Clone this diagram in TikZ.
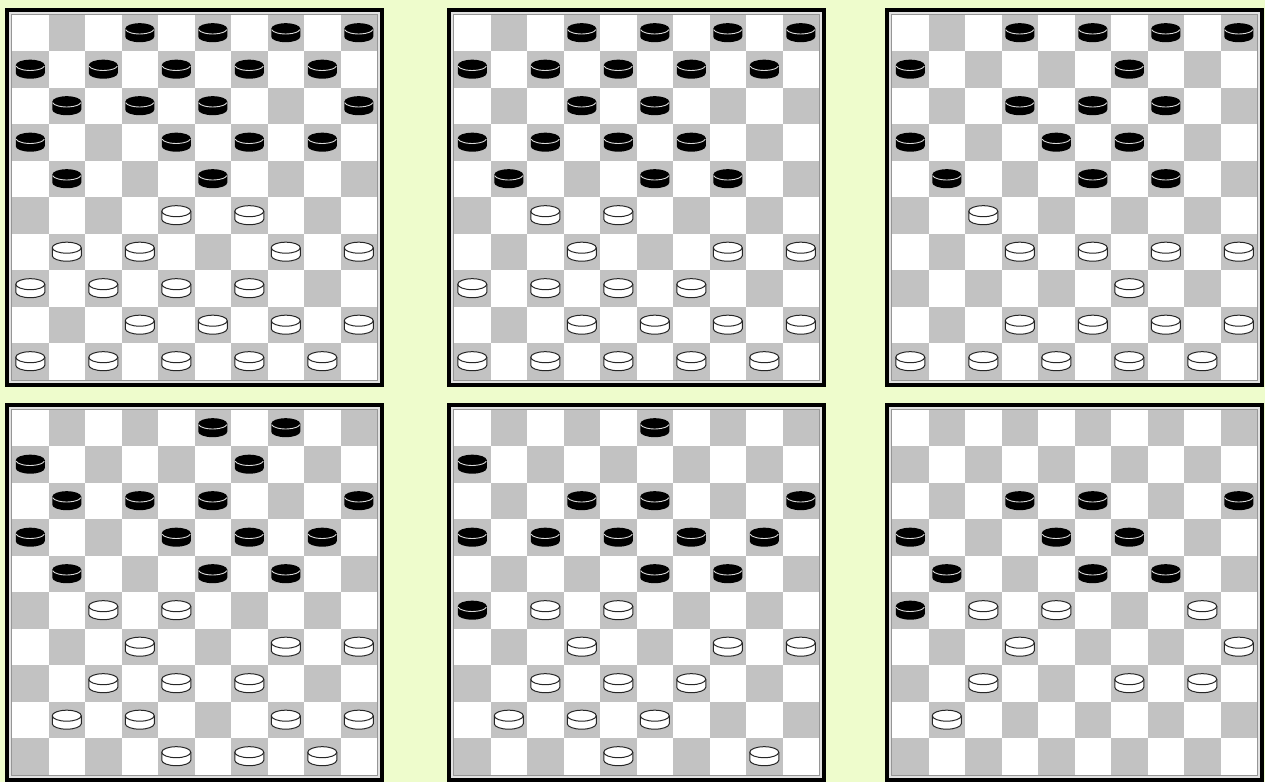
\documentclass[tikz,border=0pt]{standalone}
\usepackage{tikz}
\definecolor{bgc}{RGB}{238,252,204}
\definecolor{darksq}{RGB}{194,194,194}
\definecolor{framefill}{RGB}{226,226,226}
\definecolor{frameline}{RGB}{150,150,150}
\tikzset{
  bpiece/.pic={
    \fill[black] (-14.5,4) -- (-14.5,-4) arc[start angle=180,end angle=360,x radius=14.5,y radius=5.5] -- (14.5,4) arc[start angle=0,end angle=180,x radius=14.5,y radius=5.5] -- cycle;
    \draw[white!85!black,line width=0.45pt] (-14.1,3) arc[start angle=190,end angle=350,x radius=14.3,y radius=5.2];
  },
  wpiece/.pic={
    \filldraw[fill=white,draw=black!85,line width=0.5pt] (-14.5,4) -- (-14.5,-4) arc[start angle=180,end angle=360,x radius=14.5,y radius=5.5] -- (14.5,4) arc[start angle=0,end angle=180,x radius=14.5,y radius=5.5] -- cycle;
    \draw[black!85,line width=0.5pt] (-14.5,4) arc[start angle=180,end angle=360,x radius=14.5,y radius=5.5];
  }
}
\newcommand{\drawboard}[4]{%
  \begin{scope}[shift={(#1,782-#2-379)}]
    \fill[black] (0,0) rectangle (379,379);
    \fill[framefill] (4,4) rectangle (375,375);
    \draw[frameline,line width=0.5pt] (6.2,6.2) rectangle (372.8,372.8);
    \fill[white] (7,7) rectangle (372,372);
    \foreach \r in {0,...,9}{%
      \foreach \c in {0,...,9}{%
        \pgfmathtruncatemacro{\sqpar}{mod(\r+\c,2)}%
        \ifnum\sqpar=1
          \fill[darksq] ({7+36.5*\c},{372-36.5*(\r+1)}) rectangle ++(36.5,36.5);
        \fi
      }%
    }
    \foreach \r/\c in {#3} \pic at ({25.25+36.5*\c},{354.3-36.5*\r}) {bpiece};
    \foreach \r/\c in {#4} \pic at ({25.25+36.5*\c},{354.3-36.5*\r}) {wpiece};
  \end{scope}}
\begin{document}
\begin{tikzpicture}[x=0.5pt,y=0.5pt]
\useasboundingbox (0,0) rectangle (1265,782);
\fill[bgc] (0,0) rectangle (1265,782);
% board 1
\drawboard{5}{8}{0/3,0/5,0/7,0/9,1/0,1/2,1/4,1/6,1/8,2/1,2/3,2/5,2/9,3/0,3/4,3/6,3/8,4/1,4/5}{5/4,5/6,6/1,6/3,6/7,6/9,7/0,7/2,7/4,7/6,8/3,8/5,8/7,8/9,9/0,9/2,9/4,9/6,9/8}
% board 2
\drawboard{447}{8}{0/3,0/5,0/7,0/9,1/0,1/2,1/4,1/6,1/8,2/3,2/5,3/0,3/2,3/4,3/6,4/1,4/5,4/7}{5/2,5/4,6/3,6/7,6/9,7/0,7/2,7/4,7/6,8/3,8/5,8/7,8/9,9/0,9/2,9/4,9/6,9/8}
% board 3
\drawboard{885}{8}{0/3,0/5,0/7,0/9,1/0,1/6,2/3,2/5,2/7,3/0,3/4,3/6,4/1,4/5,4/7}{5/2,6/3,6/5,6/7,6/9,7/6,8/3,8/5,8/7,8/9,9/0,9/2,9/4,9/6,9/8}
% board 4
\drawboard{5}{403}{0/5,0/7,1/0,1/6,2/1,2/3,2/5,2/9,3/0,3/4,3/6,3/8,4/1,4/5,4/7}{5/2,5/4,6/3,6/7,6/9,7/2,7/4,7/6,8/1,8/3,8/7,8/9,9/4,9/6,9/8}
% board 5
\drawboard{447}{403}{0/5,1/0,2/3,2/5,2/9,3/0,3/2,3/4,3/6,3/8,4/5,4/7,5/0}{5/2,5/4,6/3,6/7,6/9,7/2,7/4,7/6,8/1,8/3,8/5,9/4,9/8}
% board 6
\drawboard{885}{403}{2/3,2/5,2/9,3/0,3/4,3/6,4/1,4/5,4/7,5/0}{5/2,5/4,5/8,6/3,6/9,7/2,7/6,7/8,8/1}
\end{tikzpicture}
\end{document}
